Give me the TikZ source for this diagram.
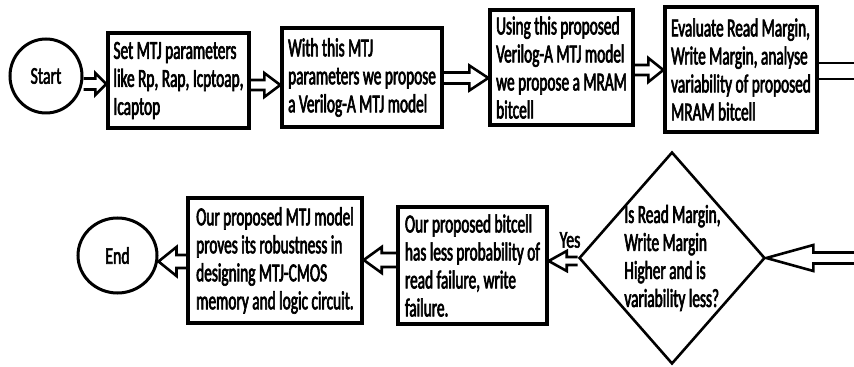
\documentclass[tikz,border=0pt]{standalone}
\usepackage{fontspec}
\setmainfont{Carlito}
\newfontfamily\condA{Carlito}[FakeStretch=0.59,FakeBold=2.4]
\newfontfamily\condB{Carlito}[FakeStretch=0.66,FakeBold=2.2]
\usetikzlibrary{shapes.geometric,calc}
\begin{document}
\begin{tikzpicture}[x=0.5pt,y=-0.5pt,
  txt/.style={font=\condA\fontsize{13pt}{14pt}\selectfont},
  smalltxt/.style={font=\condB\fontsize{12pt}{13pt}\selectfont},
  boxn/.style={draw,line width=1.7pt,rectangle,inner sep=2pt,anchor=center,align=left,txt},
  ovaln/.style={draw,line width=1.5pt,ellipse,inner sep=0pt,smalltxt},
  arrline/.style={line width=1.3pt,line join=miter},
  blockR/.style n args={3}{arrline,to path={let \p1=(\tikztostart),\p2=(\tikztotarget) in
     (\x1,\y1+#1) -- (\x2-#3,\y1+#1) -- (\x2-#3,\y1+#2) -- (\x2,\y1) -- (\x2-#3,\y1-#2) -- (\x2-#3,\y1-#1) -- (\x1,\y1-#1)}},
  blockL/.style n args={3}{arrline,to path={let \p1=(\tikztostart),\p2=(\tikztotarget) in
     (\x1,\y1+#1) -- (\x2+#3,\y1+#1) -- (\x2+#3,\y1+#2) -- (\x2,\y1) -- (\x2+#3,\y1-#2) -- (\x2+#3,\y1-#1) -- (\x1,\y1-#1)}}
]
\useasboundingbox (0,0) rectangle (854,367);

\node[ovaln,minimum width=36pt,minimum height=37pt] (start) at (46,76) {Start};
\node[boxn,minimum width=70.5pt,minimum height=47.5pt] (b1) at (178.5,80.5)
  {Set MTJ parameters\\like Rp, Rap, Icptoap,\\Icaptop};
\node[boxn,minimum width=80pt,minimum height=49.5pt] (b2) at (362,77.5)
  {With this MTJ\\parameters we propose\\a Verilog-A MTJ model};
\node[boxn,minimum width=71.5pt,minimum height=57.5pt] (b3) at (561.5,67.5)
  {Using this proposed\\Verilog-A MTJ model\\we propose a MRAM\\bitcell};
\node[boxn,minimum width=76pt,minimum height=62.5pt] (b4) at (741,69.5)
  {Evaluate Read Margin,\\Write Margin, analyse\\variability of proposed\\MRAM bitcell};

\node[draw,diamond,line width=1.3pt,minimum width=93pt,minimum height=106pt,inner sep=0pt] (dia) at (672,258) {};
\node[txt,align=left,anchor=west,inner sep=0pt] (diat) at (624,258)
  {Is Read Margin,\\Write Margin\\Higher and is\\variability less?};

\node[boxn,minimum width=74.5pt,minimum height=58.5pt] (b5) at (472.5,265.5)
  {Our proposed bitcell\\has less probability of\\read failure, write\\failure.};
\node[boxn,minimum width=87pt,minimum height=62.5pt] (b6) at (275,260.5)
  {Our proposed MTJ model\\proves its robustness in\\designing MTJ-CMOS\\memory and logic circuit.};
\node[ovaln,minimum width=39.5pt,minimum height=37.5pt] (end) at (117.5,255.5) {End};

\node[smalltxt,inner sep=0pt] (yes) at (570,240) {Yes};

\coordinate (o4) at (854,69.5);
\coordinate (inD) at (854,258);

\draw[blockR={2.75pt}{5.5pt}{5.5pt}] ([yshift=-4pt]start.east) to (b1.west);
\draw[blockR={2.5pt}{6pt}{8pt}] ([yshift=-2.25pt]b1.east) to (b2.west);
\draw[blockR={2.75pt}{6.25pt}{9.5pt}] ([yshift=-0.25pt]b2.east) to (b3.west);
\draw[blockR={2.5pt}{6pt}{7.5pt}] ([yshift=-1.25pt]b3.east) to (b4.west);
\draw[arrline] ([yshift=3.25pt]b4.east) -- ([yshift=3.25pt]o4);
\draw[arrline] ([yshift=-4.75pt]b4.east) -- ([yshift=-4.75pt]o4);
\draw[blockL={2.75pt}{6.5pt}{23.5pt}] (inD) to (dia.east);
\draw[blockL={2pt}{5pt}{9pt}] ([yshift=-1.5pt]dia.west) to (b5.east);
\draw[blockL={3.5pt}{6.5pt}{9pt}] ([yshift=2.75pt]b5.west) to (b6.east);
\draw[blockL={3.25pt}{7.25pt}{9pt}] ([yshift=-0.5pt]b6.west) to (end.east);
\end{tikzpicture}
\end{document}
